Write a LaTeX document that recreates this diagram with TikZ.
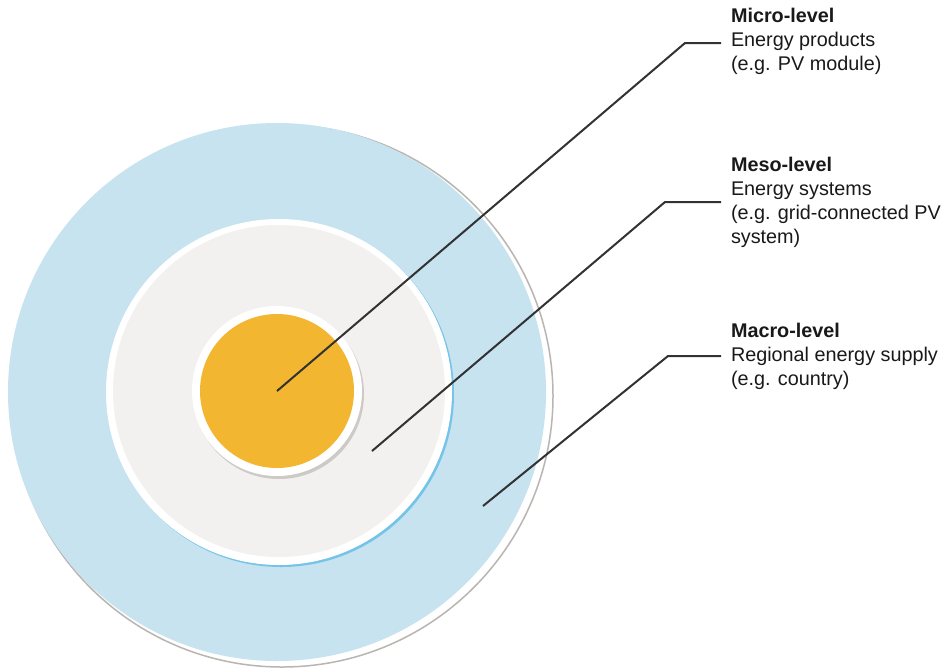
\documentclass[tikz,border=0pt]{standalone}
\usepackage{fontspec}
\setmainfont{Liberation Sans}
\definecolor{macroblue}{RGB}{198,227,239}
\definecolor{mesogray}{RGB}{242,241,239}
\definecolor{microorange}{RGB}{242,182,48}
\definecolor{mesoshadow}{RGB}{116,195,232}
\definecolor{ringshadow}{RGB}{185,181,176}
\definecolor{innershadow}{RGB}{205,201,196}
\definecolor{leadgray}{RGB}{50,50,50}
\definecolor{txtgray}{RGB}{25,25,25}
\begin{document}
\begin{tikzpicture}[x=1pt,y=-1pt,
  ring/.style={circle, inner sep=0pt, outer sep=0pt},
  lead/.style={draw=leadgray, line width=2pt},
  lab/.style={anchor=north west, align=left, inner sep=0pt, outer xsep=10pt, outer ysep=0pt,
    font=\fontsize{19.8}{24}\selectfont, text=txtgray}]
\fill[white] (0,0) rectangle (949,670);
% outer (macro) circle with offset white rim
\node[ring, minimum size=542pt, fill=white, draw=ringshadow, line width=1.5pt] (macrorim) at (282,396) {};
\node[ring, minimum size=538pt, fill=macroblue] (macro) at (277,392) {};
% middle (meso) circle
\node[ring, minimum size=346pt, fill=mesoshadow] (mesoshade) at (281,394) {};
\node[ring, minimum size=346pt, fill=white] (mesorim) at (279,392) {};
\node[ring, minimum size=332pt, fill=mesogray] (meso) at (279,391) {};
% inner (micro) circle
\node[ring, minimum size=170pt, fill=innershadow] (microshade) at (279,394) {};
\node[ring, minimum size=170pt, fill=white] (microrim) at (277,391) {};
\node[ring, minimum size=154pt, fill=microorange] (micro) at (277,391) {};
% labels
\node[lab] (labmicro) at (721,8.3) {\textbf{Micro-level}\\Energy products\\(e.g. PV module)};
\node[lab] (labmeso) at (721,157.3) {\textbf{Meso-level}\\Energy systems\\(e.g. grid-connected PV\\system)};
\node[lab] (labmacro) at (721,323.3) {\textbf{Macro-level}\\Regional energy supply\\(e.g. country)};
% leader lines
\coordinate (smeso) at (372,451);
\coordinate (smacro) at (483,506);
\coordinate (bmicro) at (685,43);
\coordinate (bmeso) at (665,202);
\coordinate (bmacro) at (668,356);
\draw[lead] (micro.center) -- (bmicro) -- (labmicro.west |- bmicro);
\draw[lead] (smeso) -- (bmeso) -- (labmeso.west |- bmeso);
\draw[lead] (smacro) -- (bmacro) -- (labmacro.west |- bmacro);
\end{tikzpicture}
\end{document}
